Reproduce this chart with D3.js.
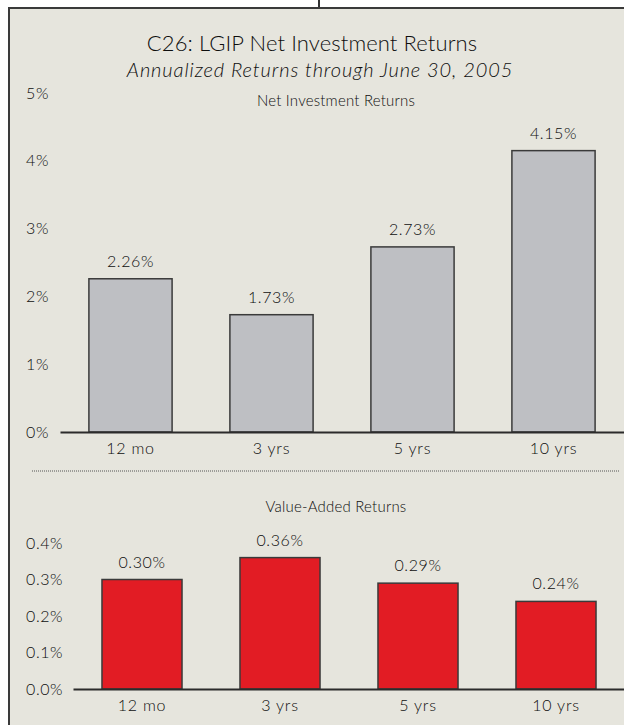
<!DOCTYPE html>
<html>
<head>
<meta charset="utf-8">
<script src="https://cdn.jsdelivr.net/npm/d3@7"></script>
<style>
  body { margin: 0; background: #fff; }
  svg text { font-family: "Lato", "DejaVu Sans", sans-serif; fill: #0e0e0e; font-weight: 300; }
  .axis .domain { stroke: #2b2b2b; stroke-width: 2; }
  .axis line { display: none; }
</style>
</head>
<body>
<svg id="chart" width="624" height="725"></svg>
<script>
const categories = ["12 mo", "3 yrs", "5 yrs", "10 yrs"];
const netReturns = [2.26, 1.73, 2.73, 4.15];
const valueAdded = [0.30, 0.36, 0.29, 0.24];
const netTicks = [0, 1, 2, 3, 4, 5];
const vaTicks = [0, 0.1, 0.2, 0.3, 0.4];

const svg = d3.select("#chart");

// panel frame
svg.append("line")
    .attr("x1", 319).attr("x2", 319).attr("y1", 0).attr("y2", 8)
    .attr("stroke", "#333").attr("stroke-width", 2);
svg.append("rect")
    .attr("x", 9).attr("y", 8).attr("width", 640).attr("height", 740)
    .attr("fill", "#e6e5dd").attr("stroke", "#3a3a3a").attr("stroke-width", 2);

svg.append("text")
    .attr("x", 312).attr("y", 51)
    .attr("text-anchor", "middle")
    .style("font-size", "22px").style("letter-spacing", "0.1px")
    .text("C26:  LGIP Net Investment Returns");
svg.append("text")
    .attr("x", 320).attr("y", 77)
    .attr("text-anchor", "middle")
    .style("font-size", "20px").style("font-style", "italic")
    .style("letter-spacing", "0.9px")
    .text("Annualized Returns through June 30, 2005");

function drawPanel(opts) {
    const x = d3.scaleBand()
        .domain(categories)
        .range(opts.xRange)
        .paddingInner(opts.pad)
        .paddingOuter(opts.pad / 2);
    const y = d3.scaleLinear().domain(opts.domain).range(opts.yRange);

    svg.append("text")
        .attr("x", 336).attr("y", opts.titleY)
        .attr("text-anchor", "middle")
        .style("font-size", "15px").style("letter-spacing", "0.2px")
        .text(opts.title);

    svg.append("g")
        .attr("class", "axis")
        .attr("transform", `translate(${opts.xRange[0]}, 0)`)
        .call(d3.axisLeft(y).tickValues(opts.ticks).tickSize(0).tickFormat(opts.fmt))
        .call(g => g.select(".domain").remove())
        .call(g => g.selectAll("text")
            .attr("x", 26 - opts.xRange[0])
            .attr("text-anchor", "start")
            .style("font-size", "16px")
            .style("letter-spacing", "0.6px")
            .style("font-family", null));

    svg.selectAll(null)
        .data(opts.values)
        .enter().append("rect")
            .attr("x", (d, i) => x(categories[i]))
            .attr("y", d => y(d))
            .attr("width", x.bandwidth())
            .attr("height", d => y(0) - y(d))
            .attr("fill", opts.color)
            .attr("stroke", "#3a3a3a")
            .attr("stroke-width", 1.5);

    svg.selectAll(null)
        .data(opts.values)
        .enter().append("text")
            .attr("x", (d, i) => x(categories[i]) + x.bandwidth() / 2)
            .attr("y", d => y(d) - 12)
            .attr("text-anchor", "middle")
            .style("font-size", "16px")
            .style("letter-spacing", "0.6px")
            .text(d => d.toFixed(2) + "%");

    svg.append("g")
        .attr("class", "axis")
        .attr("transform", `translate(0, ${y(0)})`)
        .call(d3.axisBottom(x).tickSizeOuter(0).tickSizeInner(0).tickPadding(11))
        .call(g => g.selectAll("text")
            .style("font-size", "16px")
            .style("letter-spacing", "0.8px")
            .style("font-family", null));
}

drawPanel({
    title: "Net Investment Returns", titleY: 106,
    values: netReturns, ticks: netTicks, domain: [0, 5],
    yRange: [432, 93], xRange: [60, 624], pad: 0.41,
    color: "#bebfc3", fmt: d => d + "%"
});

svg.append("line")
    .attr("x1", 32).attr("x2", 620).attr("y1", 471).attr("y2", 471)
    .attr("stroke", "#555").attr("stroke-width", 1)
    .attr("stroke-dasharray", "1,1");

drawPanel({
    title: "Value-Added Returns", titleY: 512,
    values: valueAdded, ticks: vaTicks, domain: [0, 0.4],
    yRange: [689, 543], xRange: [73, 625], pad: 0.42,
    color: "#e21c24", fmt: d => d.toFixed(1) + "%"
});
</script>
</body>
</html>
